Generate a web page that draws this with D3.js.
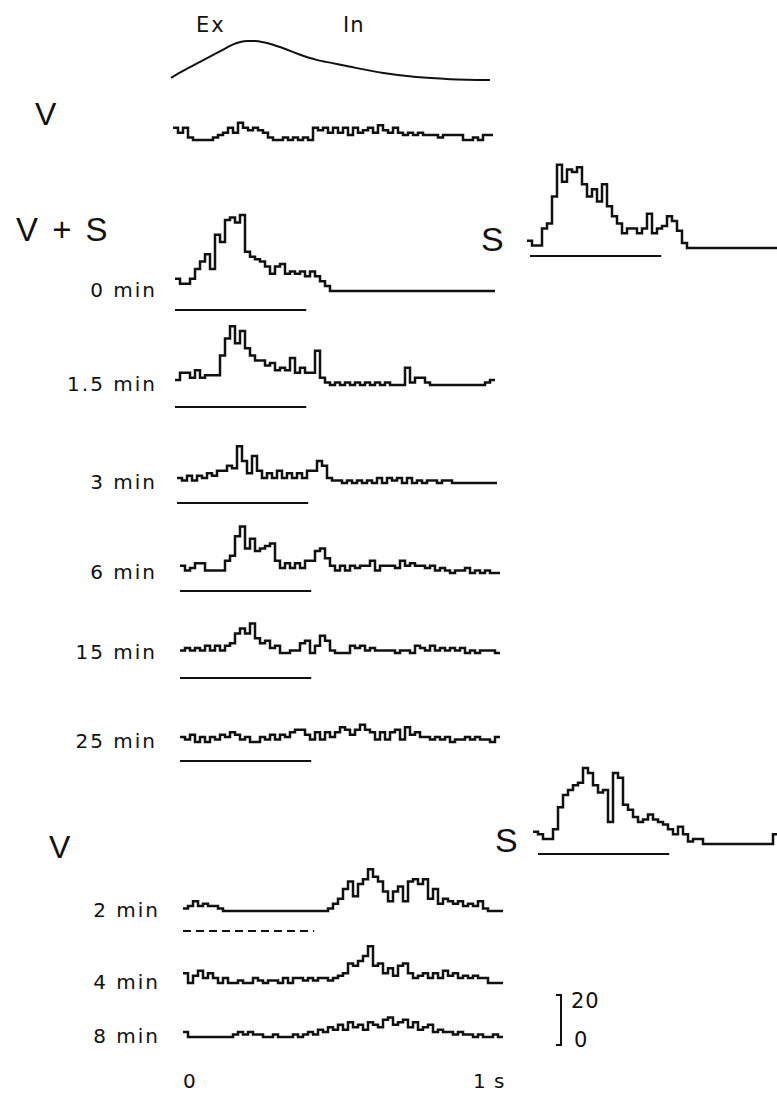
<!DOCTYPE html>
<html>
<head>
<meta charset="utf-8">
<script src="https://cdn.jsdelivr.net/npm/d3@7"></script>
<style>
  body { margin: 0; background: #fff; }
  svg text { font-family: "Liberation Sans", Arial, sans-serif; fill: #111; }
  svg text.small { font-family: "DejaVu Sans", sans-serif; }
</style>
</head>
<body>
<svg id="fig" width="777" height="1095"></svg>
<script>
// respiratory phase curve (time in s, relative amplitude)
const respT = [0, 0.0375, 0.091, 0.144, 0.175, 0.206, 0.238, 0.265, 0.29, 0.32, 0.35, 0.403, 0.456, 0.506, 0.5625, 0.666, 0.769, 0.875, 1.0];
const respA = [0.1, 0.27, 0.49, 0.71, 0.84, 0.95, 1.0, 1.0, 0.97, 0.91, 0.83, 0.67, 0.54, 0.46, 0.37, 0.22, 0.12, 0.07, 0.05];

// spike counts per bin (64 bins over 1 s)
const vControl = [5,3,5,1,0,0,0,0,1,2, 3,5,3,7,5,4,5,4,3,1, 0,0,1,0,1,0,1,0,5,4, 5,3,5,3,5,2,5,3,4,5, 3,6,4,3,5,3,2,3,2,3, 2,2,2,1,2,2,2,2,0,0, 1,0,2,2];
const vs0 = [5,3,3,5,9,12,15,9,23,20, 29,30,28,31,16,14,13,12,10,7, 10,11,7,8,7,8,6,8,6,4, 2,0,0,0,0,0,0,0,0,0, 0,0,0,0,0,0,0,0,0,0, 0,0,0,0,0,0,0,0,0,0, 0,0,0,0];
const vs1_5 = [2,5,5,3,6,3,4,4,4,12, 19,24,17,22,15,12,10,10,8,9, 6,7,6,11,5,7,5,5,14,3, 1,0,1,0,1,0,1,0,1,0, 1,0,1,0,0,0,7,1,3,3, 1,0,0,0,0,0,0,0,0,0, 0,0,1,2];
const vs3 = [2,1,3,1,3,2,4,3,5,5, 7,6,15,9,4,11,5,2,4,2, 5,2,4,2,4,2,5,5,9,7, 2,1,1,0,1,0,1,0,1,0, 2,0,2,1,2,0,2,0,1,0, 1,1,0,1,1,0,0,0,0,0, 0,0,0,0];
const vs6 = [3,1,2,4,4,1,1,1,1,5, 7,15,19,10,14,9,10,11,12,5, 2,4,2,4,2,5,5,9,10,6, 3,1,3,1,3,2,3,3,5,1, 3,3,3,2,5,3,4,3,3,2, 3,1,2,1,0,1,1,2,0,1, 0,1,0,0];
const vs15 = [1,2,1,2,1,3,1,3,1,3, 4,8,10,8,12,6,4,5,2,3, 0,0,1,1,4,5,0,3,7,5, 1,0,0,0,3,2,3,1,2,1, 1,1,1,0,1,1,0,3,2,1, 3,1,2,1,2,1,2,0,1,0, 1,1,1,0];
const vs25 = [2,1,3,0,2,0,2,1,3,2, 4,3,1,2,0,0,2,1,3,1, 3,2,4,5,5,3,1,4,1,4, 2,4,6,5,3,5,7,5,4,1, 4,1,4,5,1,6,3,4,2,2, 1,2,1,2,0,1,1,2,1,2, 1,1,0,2];
const sTop = [3,1,1,8,10,21,34,27,32,31, 33,26,21,24,19,26,17,13,10,6, 8,8,6,8,14,6,8,9,13,11, 7,2,0,0,0,0,0,0,0,0, 0,0,0,0,0,0,0,0,0,0];
const sBottom = [5,4,2,2,6,15,20,22,24,25, 31,29,24,21,22,9,29,27,16,14, 11,9,10,12,10,9,8,6,4,7, 4,1,2,2,0,0,0,0,0,0, 0,0,0,0,0,0,0,0,4];
const v2 = [1,2,4,2,3,2,2,1,0,0, 0,0,0,0,0,0,0,0,0,0, 0,0,0,0,0,0,0,0,0,1, 3,5,9,12,6,11,13,17,14,12, 8,4,8,10,4,12,13,11,13,5, 9,3,5,4,3,4,2,3,2,4, 1,0,0,0];
const v4 = [4,0,3,5,2,4,2,0,2,0, 0,1,0,0,2,1,0,1,1,0, 2,0,2,2,1,2,1,2,2,1, 2,3,4,8,7,9,11,15,7,8, 4,6,3,7,8,4,2,3,4,2, 4,2,5,3,4,2,3,2,3,2, 2,0,0,0];
const v8 = [2,0,0,0,0,0,0,0,0,0, 1,2,1,2,1,1,0,0,1,0, 0,0,1,0,1,2,1,3,2,4, 3,5,3,6,4,5,3,6,5,4, 7,8,5,6,7,4,6,3,4,5, 2,3,2,2,1,2,1,1,0,1, 0,0,1,0];

const traceLabels = ["0 min", "1.5 min", "3 min", "6 min", "15 min", "25 min"];
const vLabels = ["2 min", "4 min", "8 min"];
const binSec = 1 / 64;
const stimDur = 0.41;   // s
const scaleCount = 20;  // spikes / bin

const svg = d3.select("#fig");
const pxPer1s = 320;
const pxPer20 = 49;

const line = d3.line().curve(d3.curveStepAfter);

function histo(values, x0, base) {
  const x = d3.scaleLinear().domain([0, 1]).range([x0, x0 + pxPer1s]);
  const y = d3.scaleLinear().domain([0, scaleCount]).range([base, base - pxPer20]);
  const pts = values.map((v, i) => [x(i * binSec), y(v)]);
  pts.push([x(values.length * binSec), y(values[values.length - 1])]);
  svg.append("path").attr("d", line(pts))
    .attr("fill", "none").attr("stroke", "#111")
    .attr("stroke-width", 2.5).attr("stroke-linejoin", "miter");
  return x;
}

function underline(x, yy, dx, dash) {
  const l = svg.append("line")
    .attr("x1", x(0) + dx).attr("x2", x(stimDur) + dx)
    .attr("y1", yy).attr("y2", yy)
    .attr("stroke", "#111").attr("stroke-width", 2.2);
  if (dash) l.attr("stroke-dasharray", dash);
}

function label(txt, x, y, size, anchor, spacing, cls) {
  svg.append("text").attr("x", x).attr("y", y)
    .attr("class", cls || null)
    .attr("font-size", size).attr("text-anchor", anchor || "start")
    .attr("letter-spacing", spacing || 0)
    .text(txt);
}

// respiration curve
const xr = d3.scaleLinear().domain([0, 1]).range([171, 490]);
const yr = d3.scaleLinear().domain([0, 1]).range([82, 41]);
svg.append("path")
  .attr("d", d3.line().curve(d3.curveMonotoneX)(respT.map((t, i) => [xr(t), yr(respA[i])])))
  .attr("fill", "none").attr("stroke", "#111").attr("stroke-width", 2);
label("Ex", 196, 32, 21, "start", 2, "small");
label("In", 343, 32, 21, "start", 1, "small");

// control V
label("V", 35, 125, 32);
histo(vControl, 173, 140);

// V + S series
label("V + S", 16, 241, 33, "start", 2.5);
const vsSeries = [vs0, vs1_5, vs3, vs6, vs15, vs25];
const vsX0 = [175, 175, 177, 180, 180, 180];
const vsBase = [291, 385, 483, 573, 653, 742];
const vsLine = [310, 407, 503, 591, 678, 761];
vsSeries.forEach((vals, i) => {
  const x = histo(vals, vsX0[i], vsBase[i]);
  underline(x, vsLine[i], 0);
  label(traceLabels[i], 157, vsBase[i] + 6, 20, "end", 2, "small");
});

// S alone
label("S", 481, 251, 34);
const xs1 = histo(sTop, 527, 248);
underline(xs1, 256, 3);
label("S", 495, 852, 34);
const xs2 = histo(sBottom, 533, 844);
underline(xs2, 854, 5);

// V after
label("V", 49, 858, 32);
const vSeries = [v2, v4, v8];
const vBase = [911, 983, 1037];
vSeries.forEach((vals, i) => {
  const x = histo(vals, 183, vBase[i]);
  if (i === 0) underline(x, 931, 0, "8,5");
  label(vLabels[i], 160, vBase[i] + 6, 20, "end", 2, "small");
});

// time labels
label("0", 183, 1088, 20, "start", 0, "small");
label("1 s", 473, 1088, 20, "start", 1, "small");

// count scale bar
const ysb = d3.scaleLinear().domain([0, scaleCount]).range([1045, 1045 - 50]);
svg.append("path")
  .attr("d", `M556,${ysb(scaleCount)}H561V${ysb(0)}H556`)
  .attr("fill", "none").attr("stroke", "#111").attr("stroke-width", 2);
label(String(scaleCount), 571, ysb(scaleCount) + 13, 21, "start", 1, "small");
label("0", 574, ysb(0) + 2, 21, "start", 0, "small");
</script>
</body>
</html>
